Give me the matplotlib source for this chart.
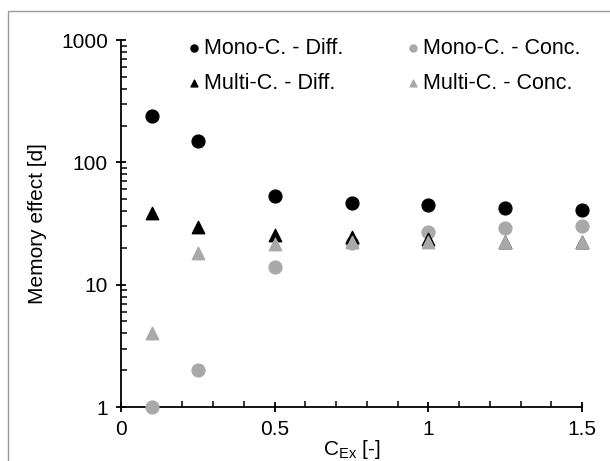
import matplotlib
matplotlib.use("Agg")
import matplotlib.pyplot as plt
import matplotlib.patches as mpatches
from matplotlib.ticker import MultipleLocator, LogLocator, NullFormatter

plt.rcParams['font.family'] = ['Liberation Sans', 'DejaVu Sans']

# data
x = [0.1, 0.25, 0.5, 0.75, 1.0, 1.25, 1.5]
mono_diff = [240, 150, 53, 46.5, 45, 42.5, 41]
mono_conc = [1.0, 2.0, 14, 22, 27, 29, 30]
multi_diff = [38.5, 29.5, 25.5, 24.5, 23.5, 22.5, 22.5]
multi_conc = [4.0, 18, 21.5, 22.5, 22.5, 22.5, 22.5]

xticks = [0, 0.5, 1, 1.5]
xtick_labels = ["0", "0.5", "1", "1.5"]
yticks = [1, 10, 100, 1000]
ytick_labels = ["1", "10", "100", "1000"]

black = "#000000"
grey = "#A9A9A9"

fig = plt.figure(figsize=(6.1, 4.61), dpi=100)
ax = fig.add_axes([121/610, 1-407/461, (582-121)/610, (407-40)/461])

h1 = ax.scatter(x, mono_diff, marker='o', s=85, color=black, label="Mono-C. - Diff.", zorder=3, clip_on=False)
h2 = ax.scatter(x, mono_conc, marker='o', s=85, color=grey, label="Mono-C. - Conc.", zorder=3, clip_on=False)
h3 = ax.scatter(x, multi_diff, marker='^', s=80, color=black, label="Multi-C. - Diff.", zorder=3, clip_on=False)
h4 = ax.scatter(x, multi_conc, marker='^', s=80, color=grey, label="Multi-C. - Conc.", zorder=3, clip_on=False)

ax.set_yscale('log')
ax.set_ylim(1, 1000)
ax.set_xlim(0, 1.5)
ax.set_xticks(xticks)
ax.set_xticklabels(xtick_labels)
ax.xaxis.set_minor_locator(MultipleLocator(0.1))
ax.set_yticks(yticks)
ax.set_yticklabels(ytick_labels)
ax.yaxis.set_minor_locator(LogLocator(base=10, subs=range(2, 10)))
ax.yaxis.set_minor_formatter(NullFormatter())

for s in ['top', 'right']:
    ax.spines[s].set_visible(False)
for s in ['left', 'bottom']:
    ax.spines[s].set_linewidth(1.3)
    ax.spines[s].set_zorder(2)

ax.tick_params(which='major', direction='inout', length=7, width=1.3, labelsize=15, pad=6)
ax.tick_params(which='minor', direction='in', length=4, width=1.1)

ax.set_ylabel("Memory effect [d]", fontsize=15, labelpad=10)
ax.set_xlabel("C$_{\\mathregular{Ex}}$ [-]", fontsize=15, labelpad=-1)

# column-major filling: order handles so rows read Diff / Conc
ax.legend([h1, h3, h2, h4],
          ["Mono-C. - Diff.", "Multi-C. - Diff.", "Mono-C. - Conc.", "Multi-C. - Conc."],
          ncol=2, loc='upper left', bbox_to_anchor=(0.128, 1.03), frameon=False,
          fontsize=15.5, markerscale=0.55, handlelength=0.5, handletextpad=0.2,
          columnspacing=3.0, labelspacing=0.65, borderaxespad=0)

# thin grey frame of the figure
fig.add_artist(mpatches.Rectangle((8/610, -0.1), 1.2, 1.1 - 11/461, transform=fig.transFigure,
                                  fill=False, edgecolor="#9a9a9a", linewidth=1.0))

fig.savefig("out.png", dpi=100)
